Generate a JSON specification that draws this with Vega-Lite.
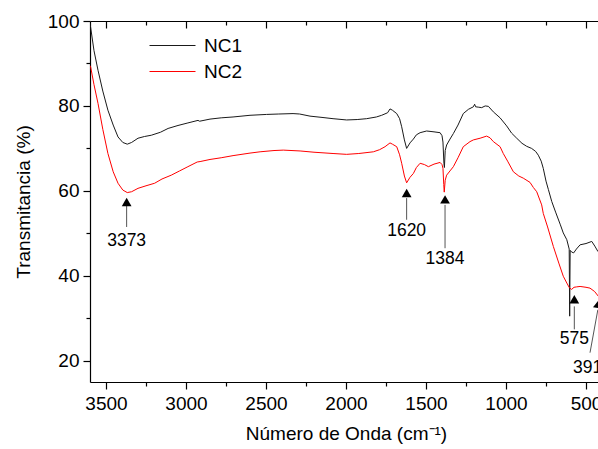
{
  "$schema": "https://vega.github.io/schema/vega-lite/v6.json",
  "width": 512,
  "height": 361,
  "autosize": {"type": "none"},
  "padding": {"left": 90, "top": 21, "right": 0, "bottom": 67},
  "background": "white",
  "config": {
    "view": {"stroke": null},
    "font": "Liberation Sans",
    "axis": {"grid": false, "domainColor": "#000", "tickColor": "#000", "labelColor": "#000", "titleColor": "#000", "labelFont": "Liberation Sans", "titleFont": "Liberation Sans", "titleFontWeight": "normal", "domainWidth": 1.2, "tickWidth": 1.2}
  },
  "datasets": {
    "spectra": [
      {"s":"NC1","wn":3600,"t":99.5},{"s":"NC1","wn":3596,"t":98.5},{"s":"NC1","wn":3575,"t":93},{"s":"NC1","wn":3550,"t":88.4},{"s":"NC1","wn":3520,"t":83.5},{"s":"NC1","wn":3488,"t":79},{"s":"NC1","wn":3455,"t":75.5},{"s":"NC1","wn":3425,"t":72.7},{"s":"NC1","wn":3395,"t":71.4},{"s":"NC1","wn":3367,"t":71.0},{"s":"NC1","wn":3340,"t":71.4},{"s":"NC1","wn":3300,"t":72.4},{"s":"NC1","wn":3260,"t":72.8},{"s":"NC1","wn":3217,"t":73.1},{"s":"NC1","wn":3160,"t":73.8},{"s":"NC1","wn":3112,"t":74.7},{"s":"NC1","wn":3050,"t":75.4},{"s":"NC1","wn":2988,"t":76.0},{"s":"NC1","wn":2925,"t":76.6},{"s":"NC1","wn":2915,"t":76.4},{"s":"NC1","wn":2850,"t":76.9},{"s":"NC1","wn":2780,"t":77.2},{"s":"NC1","wn":2706,"t":77.4},{"s":"NC1","wn":2600,"t":77.8},{"s":"NC1","wn":2496,"t":78.0},{"s":"NC1","wn":2420,"t":78.1},{"s":"NC1","wn":2331,"t":78.2},{"s":"NC1","wn":2290,"t":78.1},{"s":"NC1","wn":2225,"t":77.6},{"s":"NC1","wn":2150,"t":77.3},{"s":"NC1","wn":2081,"t":77.0},{"s":"NC1","wn":1996,"t":76.7},{"s":"NC1","wn":1930,"t":76.8},{"s":"NC1","wn":1871,"t":77.0},{"s":"NC1","wn":1810,"t":77.4},{"s":"NC1","wn":1777,"t":77.8},{"s":"NC1","wn":1740,"t":78.4},{"s":"NC1","wn":1725,"t":79.3},{"s":"NC1","wn":1710,"t":79.0},{"s":"NC1","wn":1683,"t":78.2},{"s":"NC1","wn":1665,"t":77.0},{"s":"NC1","wn":1652,"t":75.1},{"s":"NC1","wn":1635,"t":72.0},{"s":"NC1","wn":1621,"t":70.0},{"s":"NC1","wn":1600,"t":71.3},{"s":"NC1","wn":1579,"t":72.2},{"s":"NC1","wn":1560,"t":73.2},{"s":"NC1","wn":1537,"t":73.7},{"s":"NC1","wn":1496,"t":74.1},{"s":"NC1","wn":1450,"t":73.9},{"s":"NC1","wn":1412,"t":73.7},{"s":"NC1","wn":1400,"t":73.0},{"s":"NC1","wn":1394,"t":71.5},{"s":"NC1","wn":1388,"t":66.5},{"s":"NC1","wn":1385,"t":65.5},{"s":"NC1","wn":1380,"t":69.5},{"s":"NC1","wn":1371,"t":70.8},{"s":"NC1","wn":1350,"t":72.2},{"s":"NC1","wn":1329,"t":73.5},{"s":"NC1","wn":1300,"t":75.5},{"s":"NC1","wn":1267,"t":78.2},{"s":"NC1","wn":1235,"t":79.2},{"s":"NC1","wn":1204,"t":79.8},{"s":"NC1","wn":1196,"t":80.4},{"s":"NC1","wn":1190,"t":79.8},{"s":"NC1","wn":1170,"t":79.7},{"s":"NC1","wn":1152,"t":79.6},{"s":"NC1","wn":1130,"t":80.0},{"s":"NC1","wn":1110,"t":79.9},{"s":"NC1","wn":1079,"t":78.6},{"s":"NC1","wn":1037,"t":77.2},{"s":"NC1","wn":996,"t":75.3},{"s":"NC1","wn":965,"t":73.6},{"s":"NC1","wn":933,"t":72.4},{"s":"NC1","wn":900,"t":71.2},{"s":"NC1","wn":871,"t":70.5},{"s":"NC1","wn":840,"t":70.0},{"s":"NC1","wn":815,"t":69.3},{"s":"NC1","wn":798,"t":68.4},{"s":"NC1","wn":780,"t":67.0},{"s":"NC1","wn":767,"t":65.3},{"s":"NC1","wn":750,"t":62.3},{"s":"NC1","wn":735,"t":60.3},{"s":"NC1","wn":714,"t":57.5},{"s":"NC1","wn":690,"t":55.0},{"s":"NC1","wn":660,"t":52.0},{"s":"NC1","wn":642,"t":50.1},{"s":"NC1","wn":620,"t":48.5},{"s":"NC1","wn":605,"t":46.3},{"s":"NC1","wn":602,"t":30.5},{"s":"NC1","wn":599,"t":46.0},{"s":"NC1","wn":590,"t":45.6},{"s":"NC1","wn":577,"t":45.4},{"s":"NC1","wn":560,"t":46.3},{"s":"NC1","wn":537,"t":47.3},{"s":"NC1","wn":500,"t":47.6},{"s":"NC1","wn":464,"t":48.1},{"s":"NC1","wn":445,"t":47.0},{"s":"NC1","wn":425,"t":45.7},{"s":"NC1","wn":410,"t":45.5},{"s":"NC1","wn":400,"t":45.5},
      {"s":"NC2","wn":3600,"t":89.5},{"s":"NC2","wn":3596,"t":89.2},{"s":"NC2","wn":3575,"t":85},{"s":"NC2","wn":3550,"t":80.6},{"s":"NC2","wn":3520,"t":74.5},{"s":"NC2","wn":3488,"t":68.8},{"s":"NC2","wn":3455,"t":64.5},{"s":"NC2","wn":3425,"t":61.8},{"s":"NC2","wn":3395,"t":60.2},{"s":"NC2","wn":3367,"t":59.6},{"s":"NC2","wn":3340,"t":59.8},{"s":"NC2","wn":3300,"t":60.6},{"s":"NC2","wn":3250,"t":61.2},{"s":"NC2","wn":3196,"t":61.8},{"s":"NC2","wn":3150,"t":62.8},{"s":"NC2","wn":3092,"t":63.7},{"s":"NC2","wn":3040,"t":64.7},{"s":"NC2","wn":2988,"t":65.7},{"s":"NC2","wn":2930,"t":66.8},{"s":"NC2","wn":2912,"t":66.9},{"s":"NC2","wn":2850,"t":67.4},{"s":"NC2","wn":2780,"t":67.8},{"s":"NC2","wn":2706,"t":68.3},{"s":"NC2","wn":2600,"t":68.9},{"s":"NC2","wn":2537,"t":69.2},{"s":"NC2","wn":2450,"t":69.5},{"s":"NC2","wn":2392,"t":69.6},{"s":"NC2","wn":2287,"t":69.4},{"s":"NC2","wn":2200,"t":69.1},{"s":"NC2","wn":2081,"t":68.8},{"s":"NC2","wn":1996,"t":68.6},{"s":"NC2","wn":1920,"t":68.8},{"s":"NC2","wn":1829,"t":69.2},{"s":"NC2","wn":1790,"t":69.7},{"s":"NC2","wn":1756,"t":70.4},{"s":"NC2","wn":1725,"t":71.3},{"s":"NC2","wn":1710,"t":71.0},{"s":"NC2","wn":1683,"t":70.4},{"s":"NC2","wn":1665,"t":68.5},{"s":"NC2","wn":1652,"t":66.5},{"s":"NC2","wn":1635,"t":63.5},{"s":"NC2","wn":1621,"t":61.9},{"s":"NC2","wn":1600,"t":63.2},{"s":"NC2","wn":1579,"t":64.1},{"s":"NC2","wn":1560,"t":65.5},{"s":"NC2","wn":1537,"t":66.5},{"s":"NC2","wn":1510,"t":66.2},{"s":"NC2","wn":1485,"t":65.7},{"s":"NC2","wn":1450,"t":66.3},{"s":"NC2","wn":1412,"t":66.7},{"s":"NC2","wn":1400,"t":66.2},{"s":"NC2","wn":1394,"t":65.3},{"s":"NC2","wn":1389,"t":61.5},{"s":"NC2","wn":1386,"t":59.7},{"s":"NC2","wn":1380,"t":62.5},{"s":"NC2","wn":1371,"t":63.7},{"s":"NC2","wn":1350,"t":64.7},{"s":"NC2","wn":1329,"t":65.7},{"s":"NC2","wn":1300,"t":67.8},{"s":"NC2","wn":1267,"t":70.4},{"s":"NC2","wn":1225,"t":71.6},{"s":"NC2","wn":1204,"t":72.0},{"s":"NC2","wn":1162,"t":72.4},{"s":"NC2","wn":1121,"t":72.9},{"s":"NC2","wn":1100,"t":72.5},{"s":"NC2","wn":1079,"t":71.6},{"s":"NC2","wn":1037,"t":70.4},{"s":"NC2","wn":1017,"t":68.8},{"s":"NC2","wn":990,"t":67.0},{"s":"NC2","wn":954,"t":64.5},{"s":"NC2","wn":920,"t":63.5},{"s":"NC2","wn":892,"t":63.0},{"s":"NC2","wn":850,"t":62.0},{"s":"NC2","wn":829,"t":60.8},{"s":"NC2","wn":808,"t":59.8},{"s":"NC2","wn":777,"t":56.7},{"s":"NC2","wn":767,"t":54.7},{"s":"NC2","wn":740,"t":51.5},{"s":"NC2","wn":704,"t":46.9},{"s":"NC2","wn":670,"t":43.0},{"s":"NC2","wn":642,"t":39.9},{"s":"NC2","wn":620,"t":38.3},{"s":"NC2","wn":604,"t":37.2},{"s":"NC2","wn":590,"t":36.8},{"s":"NC2","wn":575,"t":37.3},{"s":"NC2","wn":558,"t":37.4},{"s":"NC2","wn":537,"t":37.5},{"s":"NC2","wn":500,"t":37.3},{"s":"NC2","wn":475,"t":37.1},{"s":"NC2","wn":446,"t":36.3},{"s":"NC2","wn":423,"t":35.2},{"s":"NC2","wn":400,"t":34.5}
    ],
    "arrows": [
      {"wn":3371,"head":57.4,"base":56.5,"end":51.5,"label":"3373","ly":48.3},
      {"wn":1621,"head":59.5,"base":58.3,"end":53.2,"label":"1620","ly":50.6},
      {"wn":1381,"head":58.0,"base":56.7,"end":46.5,"label":"1384","ly":44.0},
      {"wn":573,"head":34.5,"base":32.8,"end":27.4,"label":"575","ly":25.2}
    ],
    "slant": [
      {"wn":475,"wn2":426,"y":21.9,"y2":32.0}
    ],
    "slanthead": [
      {"wn":422,"t":33.4}
    ],
    "slantlabel": [
      {"wn":581,"t":18.2,"label":"391"}
    ]
  },
  "resolve": {"axis": {"x": "independent", "y": "independent"}},
  "layer": [
    {
      "data": {"name": "spectra"},
      "mark": {"type": "line", "strokeWidth": 1, "clip": true},
      "encoding": {
        "x": {"field": "wn", "type": "quantitative",
              "scale": {"domain": [400, 3600], "reverse": true, "nice": false, "zero": false},
              "axis": {"orient": "bottom", "values": [500, 1000, 1500, 2000, 2500, 3000, 3500], "format": "d", "tickSize": 7, "labelFontSize": 19, "labelPadding": 5, "title": "Número de Onda (cm⁻¹)", "titleFontSize": 19, "titlePadding": 11}},
        "y": {"field": "t", "type": "quantitative",
              "scale": {"domain": [15, 100], "nice": false, "zero": false},
              "axis": {"orient": "left", "values": [20, 40, 60, 80, 100], "format": "d", "tickSize": 7, "labelFontSize": 19, "labelPadding": 4, "title": "Transmitancia (%)", "titleFontSize": 19, "titlePadding": 14}},
        "color": {"field": "s", "type": "nominal",
                  "scale": {"domain": ["NC1", "NC2"], "range": ["#1a1a1a", "#ff0000"]},
                  "legend": {"title": null, "orient": "none", "legendX": 72, "legendY": 14, "symbolType": "M-2.3,0H2.3", "symbolSize": 400, "symbolStrokeWidth": 1, "labelFontSize": 19, "labelFont": "Liberation Sans", "labelColor": "#000", "rowPadding": 5, "labelOffset": 21, "padding": 0}},
        "order": {"field": "wn", "type": "quantitative", "sort": "descending"}
      }
    },
    {
      "data": {"name": "arrows"},
      "mark": {"type": "rule", "color": "#555", "strokeWidth": 1},
      "encoding": {
        "x": {"field": "wn", "type": "quantitative",
              "axis": {"orient": "bottom", "values": [750, 1250, 1750, 2250, 2750, 3250], "tickSize": 4, "labels": false, "domain": false, "title": null}},
        "y": {"field": "base", "type": "quantitative",
              "axis": {"orient": "left", "values": [30, 50, 70, 90], "tickSize": 4, "labels": false, "domain": false, "title": null}},
        "y2": {"field": "end"}
      }
    },
    {
      "data": {"name": "slant"},
      "mark": {"type": "rule", "color": "#555", "strokeWidth": 1},
      "encoding": {
        "x": {"field": "wn", "type": "quantitative",
              "axis": {"orient": "top", "values": [500, 1000, 1500, 2000, 2500, 3000, 3500], "tickSize": -7, "labels": false, "domain": true, "title": null}},
        "x2": {"field": "wn2"},
        "y": {"field": "y", "type": "quantitative", "axis": null},
        "y2": {"field": "y2"}
      }
    },
    {
      "data": {"name": "arrows"},
      "mark": {"type": "point", "shape": "triangle-up", "filled": true, "color": "#000", "size": 95, "opacity": 1},
      "encoding": {
        "x": {"field": "wn", "type": "quantitative",
              "axis": {"orient": "top", "values": [750, 1250, 1750, 2250, 2750, 3250], "tickSize": -4, "labels": false, "domain": false, "title": null}},
        "y": {"field": "head", "type": "quantitative", "axis": null}
      }
    },
    {
      "data": {"name": "slanthead"},
      "mark": {"type": "point", "shape": "triangle-up", "filled": true, "color": "#000", "size": 95, "opacity": 1, "angle": 9},
      "encoding": {
        "x": {"field": "wn", "type": "quantitative", "axis": null},
        "y": {"field": "t", "type": "quantitative", "axis": null}
      }
    },
    {
      "data": {"name": "arrows"},
      "mark": {"type": "text", "fontSize": 17.5, "font": "Liberation Sans", "color": "#000", "align": "center", "baseline": "middle"},
      "encoding": {
        "x": {"field": "wn", "type": "quantitative", "axis": null},
        "y": {"field": "ly", "type": "quantitative", "axis": null},
        "text": {"field": "label"}
      }
    },
    {
      "data": {"name": "slantlabel"},
      "mark": {"type": "text", "fontSize": 17.5, "font": "Liberation Sans", "color": "#000", "align": "left", "baseline": "middle"},
      "encoding": {
        "x": {"field": "wn", "type": "quantitative", "axis": null},
        "y": {"field": "t", "type": "quantitative", "axis": null},
        "text": {"field": "label"}
      }
    }
  ]
}
